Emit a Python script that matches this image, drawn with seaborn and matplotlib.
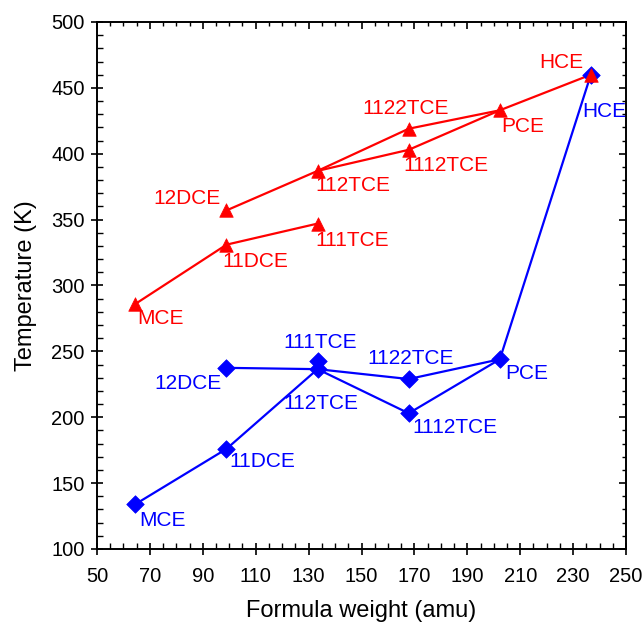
import matplotlib
matplotlib.use("Agg")
import matplotlib.pyplot as plt
import seaborn as sns
import pandas as pd
from matplotlib.ticker import MultipleLocator, FixedLocator

# ---- data ----
names = ['MCE', '11DCE', '12DCE', '111TCE', '112TCE', '1112TCE', '1122TCE', 'PCE', 'HCE']
formula_weight = [64.5, 98.96, 98.96, 133.4, 133.4, 167.85, 167.85, 202.3, 236.7]
boiling_K = [286, 331, 357, 347, 387, 403, 419, 433, 460]
melting_K = [134, 176, 237.5, 242.5, 236.5, 203, 229, 244, 460]

# connections (indices into names)
red_paths = [[0, 1, 3], [2, 4, 6, 7, 8], [4, 5, 7]]
blue_paths = [[0, 1, 4], [2, 4, 6, 7, 8], [4, 5, 7]]

x_ticks = [50, 70, 90, 110, 130, 150, 170, 190, 210, 230, 250]
y_ticks = [100, 150, 200, 250, 300, 350, 400, 450, 500]

sns.set_theme(style="white")
plt.rcParams['font.family'] = ['Liberation Sans', 'DejaVu Sans']

fig = plt.figure(figsize=(6.43, 6.27), dpi=100)
ax = fig.add_axes([97/643, 1 - 549/627, (626-97)/643, (549-22)/627])

def seg_frame(values, paths):
    rows = []
    for pid, p in enumerate(paths):
        for order, i in enumerate(p):
            rows.append(dict(path=pid, order=order, x=formula_weight[i], y=values[i]))
    return pd.DataFrame(rows)

red = '#FF0000'
blue = '#0000FF'

for vals, paths, col, mk, ms in [(melting_K, blue_paths, blue, 'D', 80),
                                 (boiling_K, red_paths, red, '^', 95)]:
    df = seg_frame(vals, paths)
    sns.lineplot(data=df, x='x', y='y', units='path', estimator=None, sort=False,
                 color=col, lw=1.6, ax=ax, legend=False)
    pts = pd.DataFrame(dict(x=formula_weight, y=vals))
    sns.scatterplot(data=pts, x='x', y='y', marker=mk, s=ms, color=col,
                    edgecolor=col, linewidth=0.5, ax=ax, legend=False, zorder=3)

# label offsets in pixels (dx, dy_down), horizontal alignment
red_lab = {
    'MCE': (2, 15, 'left'), '11DCE': (-4, 17, 'left'), '12DCE': (-6, -12, 'right'),
    '111TCE': (-2, 17, 'left'), '112TCE': (-2, 15, 'left'), '1112TCE': (-5, 16, 'left'),
    '1122TCE': (-3, -20, 'center'), 'PCE': (1, 16, 'left'), 'HCE': (-7, -12, 'right'),
}
blue_lab = {
    'MCE': (4, 16, 'left'), '11DCE': (3, 13, 'left'), '12DCE': (-5, 16, 'right'),
    '111TCE': (3, -19, 'center'), '112TCE': (3, 34, 'center'), '1112TCE': (4, 14, 'left'),
    '1122TCE': (2, -21, 'center'), 'PCE': (5, 14, 'left'), 'HCE': (-9, 37, 'left'),
}
for vals, labs, col in [(boiling_K, red_lab, red), (melting_K, blue_lab, blue)]:
    for n, x, y in zip(names, formula_weight, vals):
        dx, dy, ha = labs[n]
        ax.annotate(n, (x, y), xytext=(dx, -dy), textcoords='offset pixels',
                    ha=ha, va='center', color=col, fontsize=15)

ax.set_xlim(50, 250)
ax.set_ylim(100, 500)
ax.xaxis.set_major_locator(FixedLocator(x_ticks))
ax.xaxis.set_minor_locator(MultipleLocator(5))
ax.yaxis.set_major_locator(FixedLocator(y_ticks))
ax.yaxis.set_minor_locator(MultipleLocator(10))
ax.set_xlabel('Formula weight (amu)', fontsize=17, labelpad=10, color='black')
ax.set_ylabel('Temperature (K)', fontsize=17, labelpad=10, color='black')
ax.tick_params(which='major', direction='inout', length=8, width=1.2, labelsize=14.5,
               bottom=True, left=True, color='black', labelcolor='black')
ax.tick_params(axis='x', which='major', pad=9)
ax.tick_params(axis='y', which='major', pad=5)
ax.tick_params(which='minor', direction='in', length=4, width=1.0,
               bottom=True, left=True, color='black')
for s in ax.spines.values():
    s.set_color('black')
    s.set_linewidth(1.4)

# inward ticks on top and right
secx = ax.secondary_xaxis('top')
secx.xaxis.set_major_locator(FixedLocator(x_ticks))
secx.xaxis.set_minor_locator(MultipleLocator(5))
secx.tick_params(which='major', direction='in', length=5, width=1.2, labeltop=False, color='black')
secx.tick_params(which='minor', direction='in', length=3, width=1.0, color='black')
secy = ax.secondary_yaxis('right')
secy.yaxis.set_major_locator(FixedLocator(y_ticks))
secy.yaxis.set_minor_locator(MultipleLocator(10))
secy.tick_params(which='major', direction='in', length=5, width=1.2, labelright=False, color='black')
secy.tick_params(which='minor', direction='in', length=3, width=1.0, color='black')
for sa in (secx, secy):
    for s in sa.spines.values():
        s.set_visible(False)

fig.savefig('out.png', dpi=100)
